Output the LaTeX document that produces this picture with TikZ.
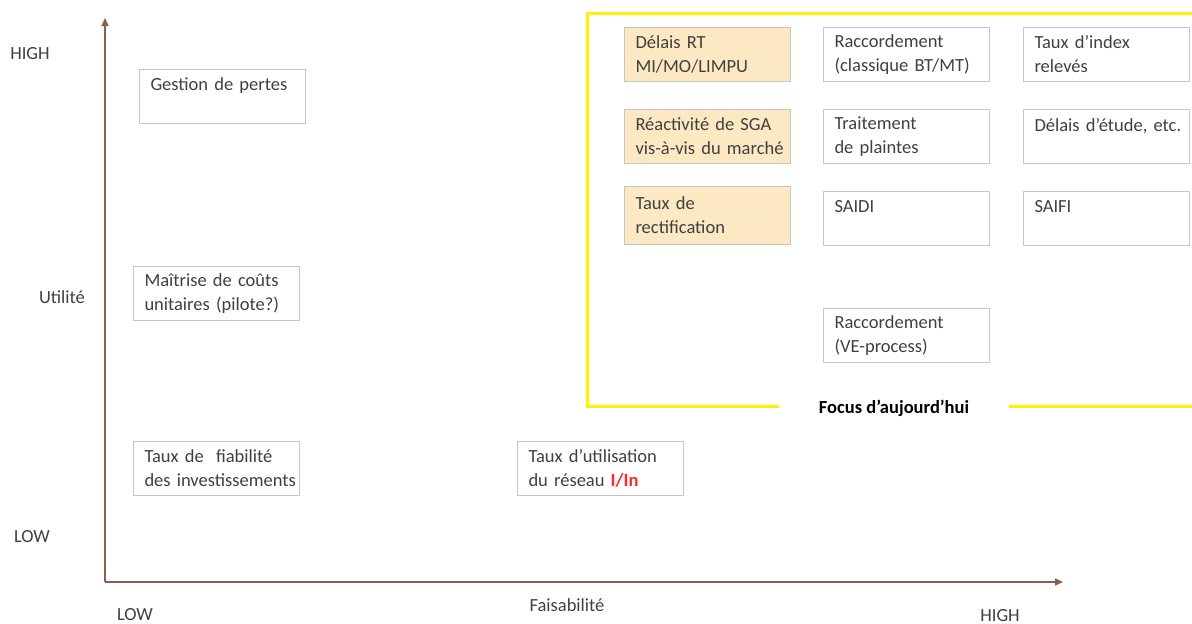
\documentclass[tikz,border=0pt]{standalone}
\usepackage{fontspec}
\setmainfont{Carlito}
\usetikzlibrary{arrows.meta, positioning}
\definecolor{axisbrown}{HTML}{8B5E50}
\definecolor{focusyellow}{HTML}{FFF200}
\definecolor{boxgray}{HTML}{C6C6C6}
\definecolor{textdark}{HTML}{404040}
\definecolor{hlfill}{HTML}{FCE8C2}
\definecolor{alertred}{HTML}{FF2A2A}

\begin{document}
\begin{tikzpicture}[
    x=1pt, y=-1pt,
    every node/.style={font=\fontsize{18.5}{24}\selectfont, text=textdark},
    kpi/.style={draw=boxgray, fill=#1, line width=1pt, anchor=north west, minimum width=166pt, minimum height=54pt,
                text width=166pt, inner xsep=0pt, inner ysep=4pt, align=left,
                execute at begin node={\leftskip=11pt\hyphenpenalty=10000}},
    kpi/.default=white,
    axislabel/.style={anchor=base},
    axis/.style={draw=axisbrown, line width=1.5pt, -{Triangle[length=8pt, width=7pt]}},
]

% Canvas
\useasboundingbox (0,0) rectangle (1192,624);

% =============================================
% AXES
% =============================================
\coordinate (origin) at (105,582);
\coordinate (ytop) at (105,18);
\coordinate (xend) at (1063,582);
\draw[axis] (origin) -- (ytop);
\draw[axis] (origin) -- (xend);

\node[axislabel] (yhigh) at (30,59) {HIGH};
\node[axislabel] (ytitle) at (62,303) {Utilité};
\node[axislabel] (ylow) at (32,542) {LOW};
\node[axislabel] (xlow) at (135,620) {LOW};
\node[axislabel] (xtitle) at (567,611) {Faisabilité};
\node[axislabel] (xhigh) at (1000,621.5) {HIGH};

% =============================================
% OUTSIDE THE FOCUS
% =============================================
\node[kpi] (pertes) at (139,69) {Gestion de pertes\\\mbox{}};
\node[kpi] (couts) at (133,266) {Maîtrise de coûts\\unitaires (pilote?)};
\node[kpi] (fiab) at (133,441) {Taux de~ fiabilité\\des investissements};
\node[kpi] (utilis) at (517,441) {Taux d’utilisation\\du réseau \textcolor{alertred}{\bfseries I/In}};

% =============================================
% FOCUS AREA
% =============================================
% first column (highlighted)
\node[kpi=hlfill] (delaisrt) at (624,27) {Délais RT\\MI/MO/LIMPU};
\node[kpi=hlfill] (reactiv) at (624,109) {Réactivité de SGA\\vis-à-vis du marché};
\node[kpi=hlfill, minimum height=58pt] (rectif) at (624,186) {Taux de\\rectification};

% second column
\node[kpi] (raccclass) at (823,27) {Raccordement\\(classique BT/MT)};
\node[kpi] (plaintes) at (823,109) {Traitement\\de plaintes};
\node[kpi] (saidi) at (823,191) {SAIDI\\\mbox{}};
\node[kpi] (raccve) at (823,308) {Raccordement\\(VE-process)};

% third column
\node[kpi] (index) at (1023,27) {Taux d’index\\relevés};
\node[kpi] (etude) at (1023,109) {Délais d’étude, etc.\\\mbox{}};
\node[kpi] (saifi) at (1023,191) {SAIFI\\\mbox{}};

% === Focus frame ===
\node[anchor=base, text=black, font=\fontsize{18.5}{24}\selectfont\bfseries, inner xsep=40pt] (focus) at (894,413) {Focus d’aujourd’hui};
\coordinate (frametr) at (1200,13);
\coordinate (frametl) at (587,13);
\coordinate (framebl) at (587,406.5);
\coordinate (framebr) at (1200,406.5);
\draw[focusyellow, line width=3pt] (frametr) -- (frametl) -- (framebl) -- (framebl -| focus.west);
\draw[focusyellow, line width=3pt] (framebl -| focus.east) -- (framebr);

\end{tikzpicture}
\end{document}
